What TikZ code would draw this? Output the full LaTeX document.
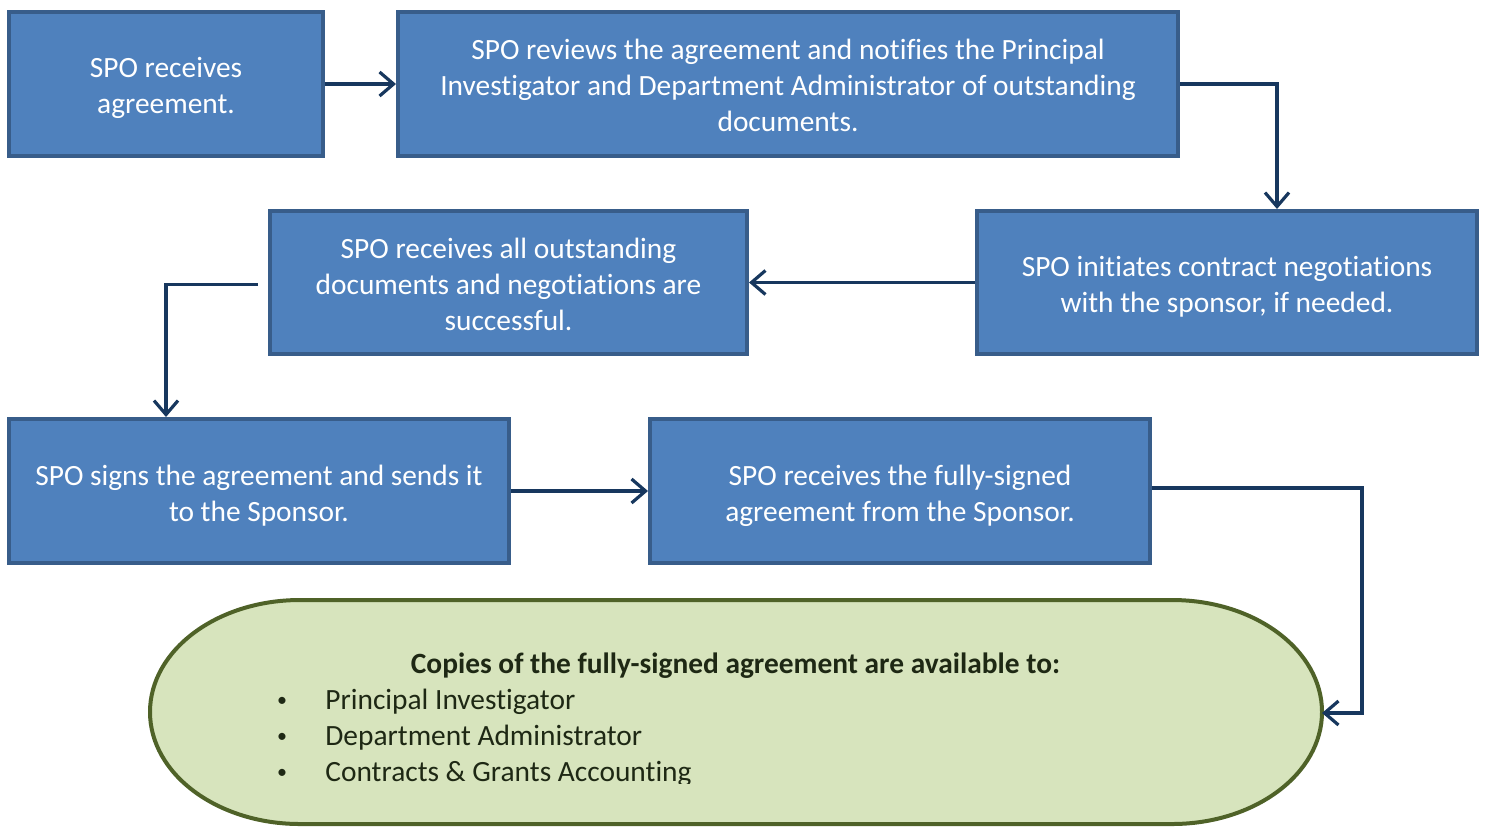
\documentclass[tikz,border=0pt]{standalone}
\usepackage{fontspec}
\setmainfont[Ligatures={NoCommon,NoRare,NoContextual},Contextuals=NoAlternate]{Carlito}
\usetikzlibrary{arrows.meta}
\definecolor{boxfill}{HTML}{4F81BD}
\definecolor{boxline}{HTML}{385D8A}
\definecolor{arrowc}{HTML}{17375E}
\definecolor{ovalfill}{HTML}{D7E4BD}
\definecolor{ovalline}{HTML}{4F6228}
\definecolor{ovaltext}{HTML}{1E2814}
\begin{document}
\begin{tikzpicture}[x=0.5pt,y=-0.5pt,
  stepbox/.style={rectangle, draw=boxline, line width=2pt, fill=boxfill, inner sep=0pt},
  steptext/.style={text=white, align=center, inner sep=0pt,
    font=\fontsize{14.7}{18}\selectfont},
  conn/.style={draw=arrowc, line width=1.6pt, line join=miter,
    -{Straight Barb[length=7pt,width=12pt]}},
  ovaltxt/.style={text=ovaltext, inner sep=0pt, font=\fontsize{14.7}{18}\selectfont}]
\path[use as bounding box] (0,0) rectangle (1486,826);

\node[stepbox, minimum width=157pt, minimum height=72pt] (b1) at (166,84) {};
\node[stepbox, minimum width=390pt, minimum height=72pt] (b2) at (788,84) {};
\node[stepbox, minimum width=250pt, minimum height=71.5pt] (b3) at (1227,282.5) {};
\node[stepbox, minimum width=238.5pt, minimum height=71.5pt] (b4) at (508.5,282.5) {};
\node[stepbox, minimum width=250pt, minimum height=72pt] (b5) at (259,491) {};
\node[stepbox, minimum width=250pt, minimum height=72pt] (b6) at (900,491) {};

\node[steptext] (t1) at ([yshift=-2pt]b1.center) {SPO receives\\agreement.};
\node[steptext] (t2) at ([yshift=-0.5pt]b2.center)
  {SPO reviews the agreement and notifies the Principal\\Investigator and Department Administrator of outstanding\\documents.};
\node[steptext] (t3) at ([yshift=-2pt]b3.center)
  {SPO initiates contract negotiations\\with the sponsor, if needed.};
\node[steptext] (t4) at ([yshift=-1pt]b4.center)
  {SPO receives all outstanding\\documents and negotiations are\\successful.};
\node[steptext] (t5) at ([yshift=-2.2pt]b5.center)
  {SPO signs the agreement and sends it\\to the Sponsor.};
\node[steptext] (t6) at ([yshift=-2.2pt]b6.center)
  {SPO receives the fully-signed\\agreement from the Sponsor.};

% oval
\path[fill=ovalfill, draw=ovalline, line width=2pt]
  (300,600) -- (1172,600)
  arc[start angle=90, end angle=-90, x radius=75pt, y radius=56pt]
  -- (300,824)
  arc[start angle=270, end angle=90, x radius=75pt, y radius=56pt] -- cycle;
\coordinate (goal) at (1322,713);

\begin{scope}
  \clip (0,0) rectangle (1486,783);
  \node[ovaltxt, anchor=base, font=\fontsize{14.7}{18}\selectfont\bfseries] (title) at (735.5,673)
    {Copies of the fully-signed agreement are available to:};
  \node[ovaltxt, anchor=base, font=\fontsize{10}{12}\selectfont] (d1) at (282,706) {\textbullet};
  \node[ovaltxt, anchor=base, font=\fontsize{10}{12}\selectfont] (d2) at (282,742) {\textbullet};
  \node[ovaltxt, anchor=base, font=\fontsize{10}{12}\selectfont] (d3) at (282,778) {\textbullet};
  \node[ovaltxt, anchor=base west] (i1) at (325,709) {Principal Investigator};
  \node[ovaltxt, anchor=base west] (i2) at (325,745) {Department Administrator};
  \node[ovaltxt, anchor=base west] (i3) at (325,781) {Contracts \& Grants Accounting};
\end{scope}

% connectors
\draw[conn] (b1.east) -- (b2.west);
\draw[conn] (b2.east) -- (b2.east -| 1277,0) -- (b3.north -| 1277,0);
\draw[conn] (b3.west) -- (b4.east);
\draw[conn] ([xshift=-5pt,yshift=-1pt]b4.west) -| (b5.north -| 166,0);
\draw[conn] (b5.east) -- (b6.west);
\draw[conn] ([yshift=1.5pt]b6.east) -- ([yshift=1.5pt]b6.east -| 1362,0) |- (goal);
\end{tikzpicture}
\end{document}
